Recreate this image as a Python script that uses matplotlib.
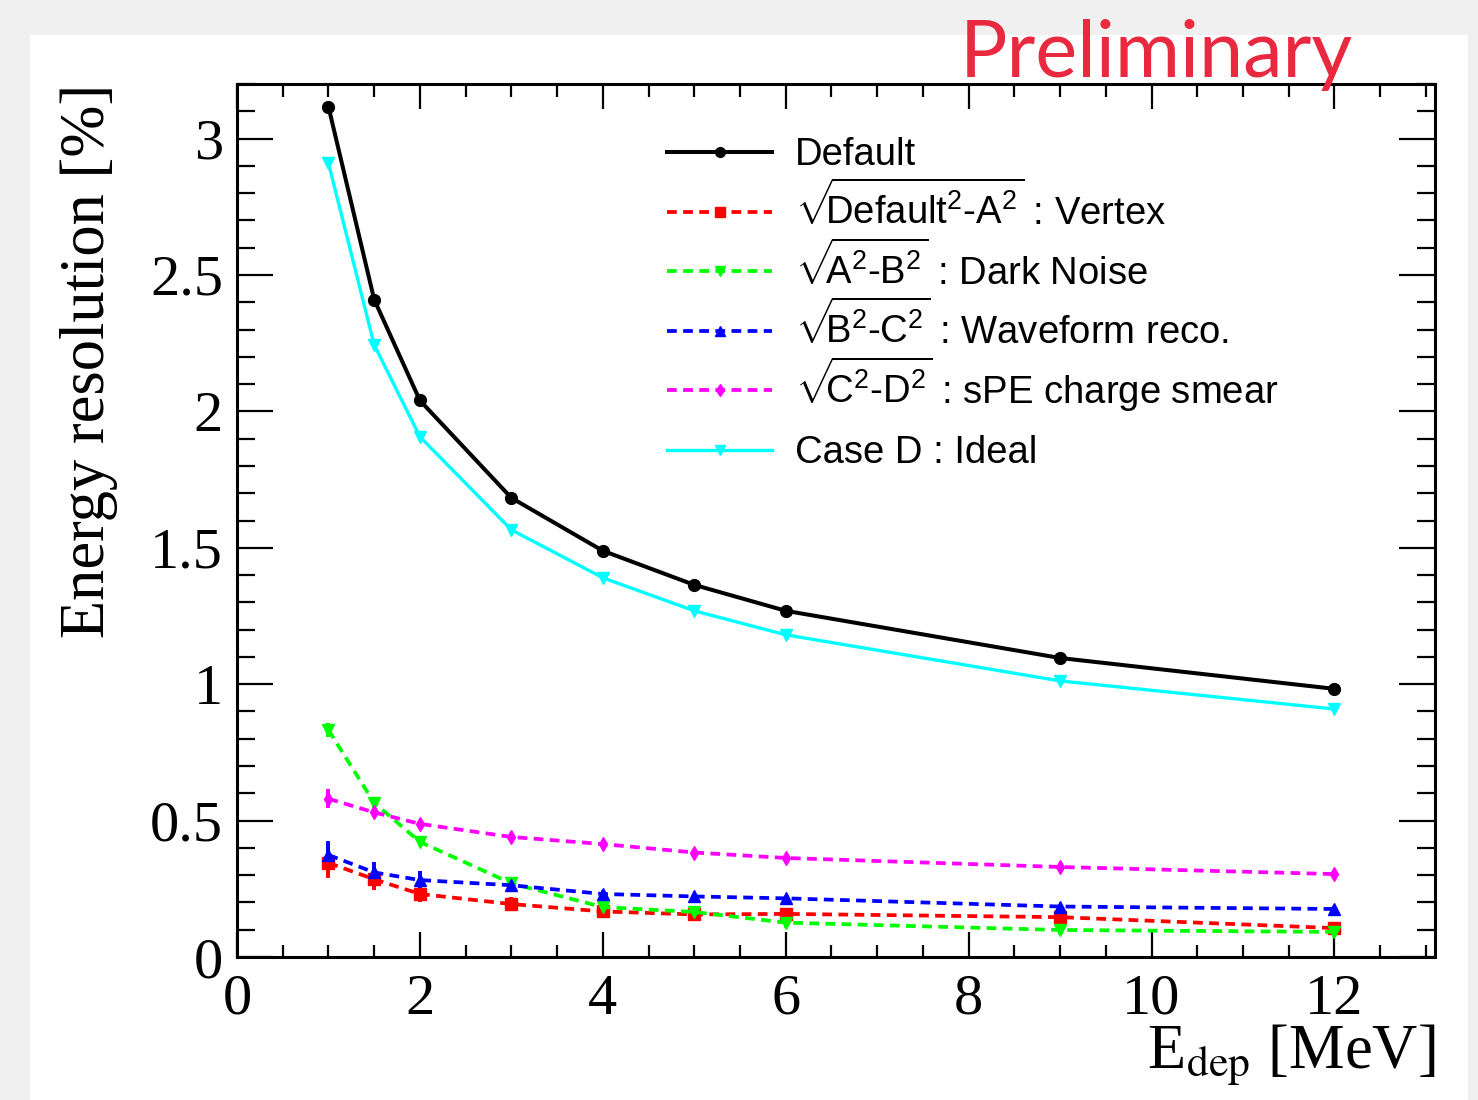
import numpy as np
import matplotlib
matplotlib.use("Agg")
import matplotlib.pyplot as plt
from matplotlib.lines import Line2D
from matplotlib.legend import Legend
from matplotlib.patches import Rectangle
from matplotlib.ticker import MultipleLocator, FixedLocator, FixedFormatter

# ---------------- data ----------------
energy = [1, 1.5, 2, 3, 4, 5, 6, 9, 12]
default_res = [3.117, 2.41, 2.04, 1.683, 1.489, 1.364, 1.269, 1.096, 0.983]
ideal_res   = [2.91, 2.244, 1.907, 1.566, 1.39, 1.269, 1.181, 1.012, 0.909]
vertex      = [0.345, 0.285, 0.231, 0.194, 0.167, 0.156, 0.158, 0.146, 0.106]
vertex_err  = [0.055, 0.04, 0.03, 0.025, 0.02, 0.02, 0.02, 0.02, 0.02]
dark_noise  = [0.832, 0.565, 0.422, 0.27, 0.183, 0.165, 0.126, 0.099, 0.092]
dark_err    = [0.025, 0.02, 0.015, 0.015, 0.015, 0.015, 0.02, 0.02, 0.02]
waveform    = [0.374, 0.31, 0.282, 0.263, 0.231, 0.222, 0.215, 0.185, 0.176]
waveform_err= [0.05, 0.04, 0.035, 0.025, 0.015, 0.01, 0.01, 0.01, 0.01]
spe_smear   = [0.58, 0.53, 0.488, 0.44, 0.414, 0.383, 0.363, 0.33, 0.304]
spe_err     = [0.035, 0.015, 0.01, 0.01, 0.008, 0.008, 0.008, 0.008, 0.008]

labels = [
    "Default",
    r"$\sqrt{\!\!\text{Default}^{2}\text{-A}^{2}}$ : Vertex",
    r"$\sqrt{\!\!\text{A}^{2}\text{-B}^{2}}$ : Dark Noise",
    r"$\sqrt{\!\!\text{B}^{2}\text{-C}^{2}}$ : Waveform reco.",
    r"$\sqrt{\!\!\text{C}^{2}\text{-D}^{2}}$ : sPE charge smear",
    "Case D : Ideal",
]
xticks = [0, 2, 4, 6, 8, 10, 12]
yticks = [0, 0.5, 1, 1.5, 2, 2.5, 3]
ytick_labels = ["0", "0.5", "1", "1.5", "2", "2.5", "3"]

# ---------------- style ----------------
plt.rcParams['mathtext.fontset'] = 'custom'
plt.rcParams['mathtext.rm'] = 'Liberation Sans'
plt.rcParams['mathtext.it'] = 'Liberation Sans:italic'
plt.rcParams['mathtext.bf'] = 'Liberation Sans:bold'
plt.rcParams['font.family'] = ['Liberation Sans', 'DejaVu Sans']

W, H = 1478, 1100
fig = plt.figure(figsize=(W / 100, H / 100), dpi=100)
fig.patch.set_facecolor('#f0f0f0')
fig.patches.append(Rectangle((30 / W, 0), (1468 - 30) / W, 1 - 35 / H,
                             transform=fig.transFigure, facecolor='white',
                             edgecolor='none', zorder=-10))

ax = fig.add_axes([237 / W, 1 - 957 / H, (1435 - 237) / W, (957 - 84) / H])
ax.set_facecolor('white')

dash = (0, (2.6, 1.7))
lw = 2.7

ax.plot(energy, default_res, color='black', lw=2.9, marker='o', ms=8.5, zorder=5)
ax.plot(energy, ideal_res, color='#00ffff', lw=2.4, marker='v', ms=8.5, zorder=5)

series = [
    (vertex, vertex_err, '#ff0000', 's', 8),
    (dark_noise, dark_err, '#00ff00', 'v', 8.5),
    (waveform, waveform_err, '#0000ff', '^', 8.5),
    (spe_smear, spe_err, '#ff00ff', 'd', 7),
]
for vals, errs, col, mk, ms in series:
    ax.errorbar(energy, vals, yerr=errs, color=col, lw=lw, ls=dash, marker=mk,
                ms=ms, elinewidth=2.8, capsize=0, zorder=4)

ax.set_xlim(0, 13.1)
ax.set_ylim(0, 3.2)
ax.xaxis.set_major_locator(FixedLocator(xticks))
ax.xaxis.set_minor_locator(MultipleLocator(0.5))
ax.yaxis.set_major_locator(FixedLocator(yticks))
ax.yaxis.set_major_formatter(FixedFormatter(ytick_labels))
ax.yaxis.set_minor_locator(MultipleLocator(0.1))

for sp in ax.spines.values():
    sp.set_linewidth(2.2)

ax.tick_params(axis='both', which='both', direction='in', top=True, right=True, width=1.6)
ax.tick_params(axis='y', which='major', length=26, pad=10)
ax.tick_params(axis='y', which='minor', length=13)
ax.tick_params(axis='x', which='major', length=18, pad=12)
ax.tick_params(axis='x', which='minor', length=9)
for lab in ax.get_xticklabels() + ax.get_yticklabels():
    lab.set_fontfamily(['Liberation Serif'])
    lab.set_fontsize(42)

ax.set_ylabel("Energy resolution [%]", fontsize=45, family=['Liberation Serif'], loc='top')
ax.yaxis.set_label_coords(-0.099, 1.0)
ax.set_xlabel(r"E$_{\mathrm{dep}}$ [MeV]", fontsize=45, family=['Liberation Serif'],
              loc='right', math_fontfamily='stix')
ax.xaxis.set_label_coords(1.0, -0.075)

handles = [
    Line2D([], [], color='black', lw=2.9, marker='o', ms=7),
    Line2D([], [], color='#ff0000', lw=lw, ls=dash, marker='s', ms=7),
    Line2D([], [], color='#00ff00', lw=lw, ls=dash, marker='v', ms=7),
    Line2D([], [], color='#0000ff', lw=lw, ls=dash, marker='^', ms=7),
    Line2D([], [], color='#ff00ff', lw=lw, ls=dash, marker='d', ms=6),
    Line2D([], [], color='#00ffff', lw=2.4, marker='v', ms=7),
]

# legend: one row per entry so that rows are evenly spaced like the original
leg_x = 0.359
row0_px, pitch_px = 152, 59.6          # pixel row positions (from top)
ax_h_px = 957 - 84
legs = []
for i, (h, l) in enumerate(zip(handles, labels)):
    y_anchor = 1 - (row0_px + pitch_px * i - 84) / ax_h_px
    leg = Legend(ax, [h], [l], loc='center left', bbox_to_anchor=(leg_x, y_anchor),
                 frameon=False, fontsize=27.5, handlelength=2.75, handletextpad=0.6,
                 borderpad=0, borderaxespad=0)
    ax.add_artist(leg)
    legs.append((leg, y_anchor))

fig.canvas.draw()
for i, (leg, y_anchor) in enumerate(legs):
    line = leg.get_lines()[0]
    pts = line.get_transform().transform(
        np.column_stack([line.get_xdata(), line.get_ydata()]))
    target = H - (row0_px + pitch_px * i)
    shift = (target - pts[0, 1]) / ax_h_px
    leg.set_bbox_to_anchor((leg_x, y_anchor + shift), transform=ax.transAxes)

fig.text(0.7825, 1 - 77 / H, "Preliminary", color='#e8293f', fontsize=57,
         family=['Lato', 'DejaVu Sans'], ha='center', va='baseline')

fig.savefig("out.png", dpi=100, facecolor=fig.get_facecolor())
